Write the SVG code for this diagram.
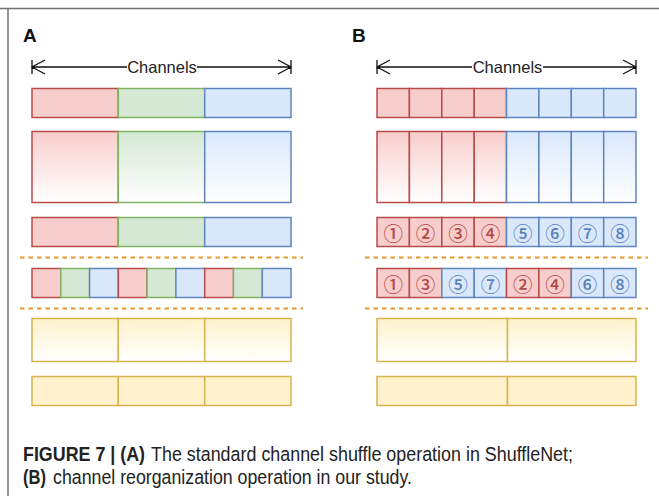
<svg xmlns="http://www.w3.org/2000/svg" width="659" height="496" viewBox="0 0 659 496">
<style>
.r{fill:#f8cecc;stroke:#b84c4a;stroke-width:1.5}
.g{fill:#d5e8d4;stroke:#7fb35f;stroke-width:1.5}
.b{fill:#dae8fc;stroke:#5f86c0;stroke-width:1.5}
.y{fill:#fff2cc;stroke:#d6b450;stroke-width:1.5}
.rg{fill:url(#gr);stroke:#b84c4a;stroke-width:1.5}
.gg{fill:url(#gg);stroke:#7fb35f;stroke-width:1.5}
.bg{fill:url(#gb);stroke:#5f86c0;stroke-width:1.5}
.yg{fill:url(#gy);stroke:#d6b450;stroke-width:1.5}
.dash{stroke:#e69a2e;stroke-width:1.8;stroke-dasharray:4.5 4;fill:none}
.ax{stroke:#111;stroke-width:1.3;fill:none}
.lab{font-family:"Liberation Sans",Arial,sans-serif;font-weight:bold;font-size:19px;fill:#111}
.ch{font-family:"Liberation Sans",Arial,sans-serif;font-size:16.5px;fill:#222}
.n{font-family:"Noto Sans CJK SC","DejaVu Sans",sans-serif;font-size:19.5px;font-weight:500;text-anchor:middle;dominant-baseline:central}
.nr{fill:#b04848}
.nb{fill:#5a80b8}
.cap{font-family:"Liberation Sans",Arial,sans-serif;font-size:20.5px;fill:#222}
.capb{font-weight:bold}
</style>
<defs>
<linearGradient id="gr" x1="0" y1="0" x2="0" y2="1"><stop offset="0" stop-color="#f8cecc"/><stop offset="1" stop-color="#ffffff"/></linearGradient>
<linearGradient id="gg" x1="0" y1="0" x2="0" y2="1"><stop offset="0" stop-color="#d5e8d4"/><stop offset="1" stop-color="#ffffff"/></linearGradient>
<linearGradient id="gb" x1="0" y1="0" x2="0" y2="1"><stop offset="0" stop-color="#dae8fc"/><stop offset="1" stop-color="#ffffff"/></linearGradient>
<linearGradient id="gy" x1="0" y1="0" x2="0" y2="1"><stop offset="0" stop-color="#fff2cc"/><stop offset="1" stop-color="#ffffff"/></linearGradient>
</defs>
<rect width="659" height="496" fill="#fff"/>
<g id="frame">
<line x1="0" y1="8.5" x2="659" y2="8.5" stroke="#6f6f6f" stroke-width="1.6"/>
<line x1="8" y1="8" x2="8" y2="496" stroke="#7a7a7a" stroke-width="1.6"/>
</g>
<g id="labels">
<text class="lab" x="23" y="42">A</text>
<text class="lab" x="352" y="42">B</text>
</g>
<g id="connectors">
<path class="ax" d="M32 60V74M32 67H127M197 67H291M291 60V74M45 60L32 67L45 74M278 60L291 67L278 74"/>
<path class="ax" d="M377 60V74M377 67H472M543 67H636M636 60V74M390 60L377 67L390 74M623 60L636 67L623 74"/>
<line class="dash" x1="20" y1="257.5" x2="303" y2="257.5"/>
<line class="dash" x1="20" y1="308.5" x2="303" y2="308.5"/>
<line class="dash" x1="365" y1="257.5" x2="648" y2="257.5"/>
<line class="dash" x1="365" y1="308.5" x2="648" y2="308.5"/>
</g>
<text class="ch" x="162" y="73" text-anchor="middle">Channels</text>
<text class="ch" x="507.5" y="73" text-anchor="middle">Channels</text>
<g id="A-row1">
<rect class="r" x="32" y="88.5" width="86.3" height="29"/>
<rect class="g" x="118.3" y="88.5" width="86.4" height="29"/>
<rect class="b" x="204.7" y="88.5" width="86.3" height="29"/>
</g>
<g id="A-row2">
<rect class="rg" x="32" y="131.5" width="86.3" height="71"/>
<rect class="gg" x="118.3" y="131.5" width="86.4" height="71"/>
<rect class="bg" x="204.7" y="131.5" width="86.3" height="71"/>
</g>
<g id="A-row3">
<rect class="r" x="32" y="217.5" width="86.3" height="29"/>
<rect class="g" x="118.3" y="217.5" width="86.4" height="29"/>
<rect class="b" x="204.7" y="217.5" width="86.3" height="29"/>
</g>
<g id="A-row4">
<rect class="r" x="32" y="268.5" width="28.8" height="29"/>
<rect class="g" x="60.8" y="268.5" width="28.8" height="29"/>
<rect class="b" x="89.6" y="268.5" width="28.7" height="29"/>
<rect class="r" x="118.3" y="268.5" width="28.8" height="29"/>
<rect class="g" x="147.1" y="268.5" width="28.8" height="29"/>
<rect class="b" x="175.9" y="268.5" width="28.8" height="29"/>
<rect class="r" x="204.7" y="268.5" width="28.8" height="29"/>
<rect class="g" x="233.5" y="268.5" width="28.8" height="29"/>
<rect class="b" x="262.3" y="268.5" width="28.7" height="29"/>
</g>
<g id="A-row5">
<rect class="yg" x="32" y="318.5" width="86.3" height="43"/>
<rect class="yg" x="118.3" y="318.5" width="86.4" height="43"/>
<rect class="yg" x="204.7" y="318.5" width="86.3" height="43"/>
</g>
<g id="A-row6">
<rect class="y" x="32" y="376.5" width="86.3" height="29"/>
<rect class="y" x="118.3" y="376.5" width="86.4" height="29"/>
<rect class="y" x="204.7" y="376.5" width="86.3" height="29"/>
</g>
<g id="B-row1">
<rect class="r" x="377" y="88.5" width="32.4" height="29"/>
<rect class="r" x="409.4" y="88.5" width="32.4" height="29"/>
<rect class="r" x="441.8" y="88.5" width="32.4" height="29"/>
<rect class="r" x="474.2" y="88.5" width="32.3" height="29"/>
<rect class="b" x="506.5" y="88.5" width="32.4" height="29"/>
<rect class="b" x="538.9" y="88.5" width="32.4" height="29"/>
<rect class="b" x="571.3" y="88.5" width="32.4" height="29"/>
<rect class="b" x="603.7" y="88.5" width="32.3" height="29"/>
</g>
<g id="B-row2">
<rect class="rg" x="377" y="131.5" width="32.4" height="71"/>
<rect class="rg" x="409.4" y="131.5" width="32.4" height="71"/>
<rect class="rg" x="441.8" y="131.5" width="32.4" height="71"/>
<rect class="rg" x="474.2" y="131.5" width="32.3" height="71"/>
<rect class="bg" x="506.5" y="131.5" width="32.4" height="71"/>
<rect class="bg" x="538.9" y="131.5" width="32.4" height="71"/>
<rect class="bg" x="571.3" y="131.5" width="32.4" height="71"/>
<rect class="bg" x="603.7" y="131.5" width="32.3" height="71"/>
</g>
<g id="B-row3">
<rect class="r" x="377" y="217.5" width="32.4" height="29"/>
<rect class="r" x="409.4" y="217.5" width="32.4" height="29"/>
<rect class="r" x="441.8" y="217.5" width="32.4" height="29"/>
<rect class="r" x="474.2" y="217.5" width="32.3" height="29"/>
<rect class="b" x="506.5" y="217.5" width="32.4" height="29"/>
<rect class="b" x="538.9" y="217.5" width="32.4" height="29"/>
<rect class="b" x="571.3" y="217.5" width="32.4" height="29"/>
<rect class="b" x="603.7" y="217.5" width="32.3" height="29"/>
<text class="n nr" x="393.2" y="232.5">①</text>
<text class="n nr" x="425.6" y="232.5">②</text>
<text class="n nr" x="458" y="232.5">③</text>
<text class="n nr" x="490.4" y="232.5">④</text>
<text class="n nb" x="522.7" y="232.5">⑤</text>
<text class="n nb" x="555.1" y="232.5">⑥</text>
<text class="n nb" x="587.5" y="232.5">⑦</text>
<text class="n nb" x="619.9" y="232.5">⑧</text>
</g>
<g id="B-row4">
<rect class="r" x="377" y="268.5" width="32.4" height="29"/>
<rect class="r" x="409.4" y="268.5" width="32.4" height="29"/>
<rect class="b" x="441.8" y="268.5" width="32.4" height="29"/>
<rect class="b" x="474.2" y="268.5" width="32.3" height="29"/>
<rect class="r" x="506.5" y="268.5" width="32.4" height="29"/>
<rect class="r" x="538.9" y="268.5" width="32.4" height="29"/>
<rect class="b" x="571.3" y="268.5" width="32.4" height="29"/>
<rect class="b" x="603.7" y="268.5" width="32.3" height="29"/>
<text class="n nr" x="393.2" y="283">①</text>
<text class="n nr" x="425.6" y="283">③</text>
<text class="n nb" x="458" y="283">⑤</text>
<text class="n nb" x="490.4" y="283">⑦</text>
<text class="n nr" x="522.7" y="283">②</text>
<text class="n nr" x="555.1" y="283">④</text>
<text class="n nb" x="587.5" y="283">⑥</text>
<text class="n nb" x="619.9" y="283">⑧</text>
</g>
<g id="B-row5">
<rect class="yg" x="377" y="318.5" width="130.5" height="43"/>
<rect class="yg" x="507.5" y="318.5" width="128.5" height="43"/>
</g>
<g id="B-row6">
<rect class="y" x="377" y="376.5" width="130.5" height="29"/>
<rect class="y" x="507.5" y="376.5" width="128.5" height="29"/>
</g>
<g id="caption">
<text class="cap capb" x="23" y="460.5" textLength="122" lengthAdjust="spacingAndGlyphs">FIGURE 7 | (A)</text>
<text class="cap" x="151" y="460.5" textLength="422" lengthAdjust="spacingAndGlyphs">The standard channel shuffle operation in ShuffleNet;</text>
<text class="cap capb" x="23" y="483.5" textLength="23" lengthAdjust="spacingAndGlyphs">(B)</text>
<text class="cap" x="53" y="483.5" textLength="359" lengthAdjust="spacingAndGlyphs">channel reorganization operation in our study.</text>
</g>
</svg>
